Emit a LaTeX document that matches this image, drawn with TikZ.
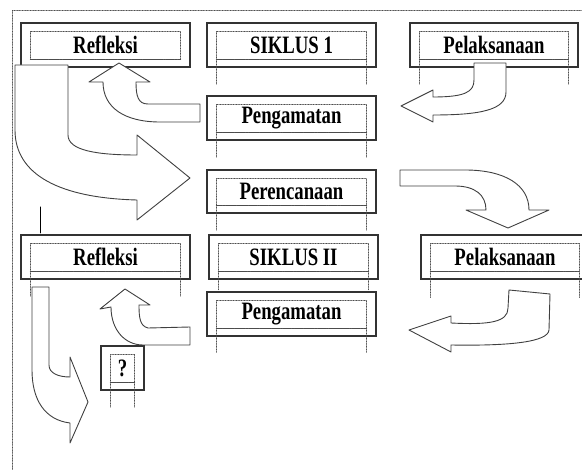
\documentclass[tikz,border=0pt]{standalone}
\usepackage{fontspec}
\setmainfont{Liberation Serif}
\usetikzlibrary{calc}

\tikzset{
  kotak/.style={draw=black!80, line width=1.1pt, minimum width=169pt, minimum height=44pt, inner sep=0pt},
  titik/.style={densely dotted, line width=0.6pt, black!70},
  panah/.style={draw=black!75, line width=0.9pt, fill=white, line join=round}
}
\newcommand\teks[1]{\scalebox{0.75}[1]{\fontsize{25}{25}\selectfont\bfseries #1}}
% kotak dalam bertitik + kaki ke bawah
\newcommand\isian[2]{%
  \draw[titik] ($(#1.north west)+(10,9)$) rectangle ($(#1.south east)+(-10,-8)$);
  \draw[titik,line width=1.3pt] ($(#1.south west)+(10,-8)$) -- ($(#1.south east)+(-10,-8)$);
  \draw[titik] ($(#1.south west)+(10,-8)$) -- ($(#1.south west)+(10,#2)$);
  \draw[titik] ($(#1.south east)+(-10,-8)$) -- ($(#1.south east)+(-10,#2)$);
}

\begin{document}
\begin{tikzpicture}[line cap=round,x=1pt,y=-1pt]
        \clip (0,0) rectangle (582,470);
        \draw[titik] (12,475) -- (12,10) -- (590,10);
        % siklus 1
        \node[kotak] (refA) at (105.5,45) {\teks{Refleksi}};
        \node[kotak] (siklusA) at (291.5,45) {\teks{SIKLUS 1}};
        \node[kotak,minimum width=168pt] (pelA) at (494,45) {\teks{Pelaksanaan}};
        \node[kotak] (pengA) at (291.5,118) {\teks{Pengamatan}};
        \node[kotak,minimum height=43pt] (renc) at (291.5,191.5) {\teks{Perencanaan}};
        \isian{refA}{-8}
        \isian{siklusA}{17}
        \isian{pelA}{17}
        \isian{pengA}{17}
        \isian{renc}{17}
        % siklus 2
        \node[kotak] (refB) at (105.5,257) {\teks{Refleksi}};
        \node[kotak] (siklusB) at (293.5,257) {\teks{SIKLUS II}};
        \node[kotak,minimum width=168pt] (pelB) at (505,257) {\teks{Pelaksanaan}};
        \node[kotak] (pengB) at (291.5,314) {\teks{Pengamatan}};
        \node[kotak,minimum width=43pt] (tanya) at (122.5,368) {\teks{?}};
        \isian{refB}{17}
        \isian{siklusB}{11}
        \isian{pelB}{18}
        \isian{pengB}{16}
        \isian{tanya}{17}
        \draw[line width=1pt] (40,207) -- (40,233);
        % panah siklus 1
        \draw[panah] (200,104) -- (148,104) .. controls (138,104) and (136,96) .. (136,82)
          -- (150,82) -- (119,63) -- (89,82) -- (103,82)
          .. controls (103,108) and (125,122) .. (160,122) -- (200,122) -- cycle;
        \draw[panah] (15,65) -- (68,65) -- (68,135) .. controls (68,150) and (95,155) .. (137,155)
          -- (137,135) -- (190,178) -- (137,220) -- (137,200)
          .. controls (60,198) and (15,175) .. (15,130) -- cycle;
        \draw[panah] (474,63) -- (506,63) -- (506,92) .. controls (506,110) and (480,115) .. (433,115)
          -- (433,122) -- (401,106) -- (433,90) -- (433,97)
          .. controls (465,97) and (474,92) .. (474,80) -- cycle;
        \draw[panah] (400,170) -- (465,170) .. controls (505,170) and (529,185) .. (529,210)
          -- (549,210) -- (508,228) -- (466,210) -- (486,210)
          .. controls (486,195) and (475,186) .. (455,186) -- (400,186) -- cycle;
        % panah siklus 2
        \draw[panah] (190,327) -- (148,328) .. controls (140,326) and (139,318) .. (139,305)
          -- (150,305) -- (125,289) -- (100,309) -- (111,307)
          .. controls (111,330) and (125,345) .. (143,345) -- (190,345) -- cycle;
        \draw[panah] (32,287) -- (49,287) -- (49,365) .. controls (49,373) and (58,377) .. (70,377)
          -- (70,357) -- (88,402) -- (70,443) -- (70,423)
          .. controls (45,420) and (32,400) .. (32,370) -- cycle;
        \draw[panah] (509,290) -- (550,294) -- (549,330) .. controls (548,342) and (510,346) .. (451,345)
          -- (451,352) -- (409,330) -- (451,316) -- (451,323)
          .. controls (490,325) and (508,322) .. (508,308) -- cycle;
        \end{tikzpicture}
\end{document}
